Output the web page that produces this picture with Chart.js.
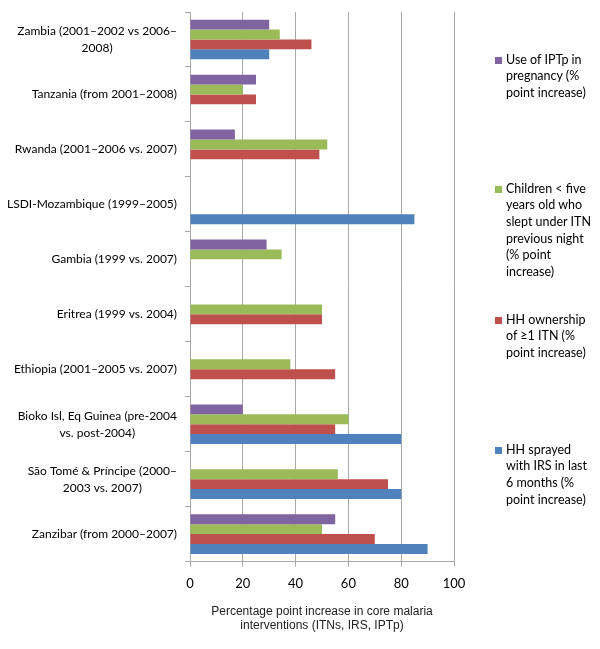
<!DOCTYPE html>
<html>
<head>
<meta charset="utf-8">
<script src="https://cdn.jsdelivr.net/npm/chart.js@4"></script>
<style>
  html, body { margin: 0; padding: 0; background: #fff; }
  #wrap { position: relative; width: 600px; height: 649px; }
  #legend { position: absolute; left: 0; top: 0; }
  .item { position: absolute; left: 495px; width: 100px; font: 12.5px Lato, sans-serif; color: #000; line-height: 16.7px; }
  .item span.box { position: absolute; left: 0; top: 5px; width: 7px; height: 7px; }
  .item div { margin-left: 11px; width: 87px; }
</style>
</head>
<body>
<div id="wrap">
  <canvas id="chart" width="600" height="649"></canvas>
  <div id="legend"></div>
</div>
<script>
const countries = [
  ['Zambia (2001–2002 vs 2006–', '2008)'],
  'Tanzania (from 2001–2008)',
  'Rwanda (2001–2006 vs. 2007)',
  'LSDI-Mozambique (1999–2005)',
  'Gambia (1999 vs. 2007)',
  'Eritrea (1999 vs. 2004)',
  'Ethiopia (2001–2005 vs. 2007)',
  ['Bioko Isl, Eq Guinea (pre-2004', 'vs. post-2004)'],
  ['São Tomé & Príncipe (2000–', '2003 vs. 2007)'],
  'Zanzibar (from 2000–2007)'
];

const seriesNames = [
  'Use of IPTp in pregnancy (% point increase)',
  'Children < five years old who slept under ITN previous night (% point increase)',
  'HH ownership of ≥1 ITN (% point increase)',
  'HH sprayed with IRS in last 6 months (% point increase)'
];

const iptp     = [30, 25, 17, null, 29, null, null, 20, null, 55];
const children = [34, 20, 52, null, 34.7, 50, 38, 60, 56, 50];
const hhItn    = [46, 25, 49, null, null, 50, 55, 55, 75, 70];
const hhIrs    = [30, null, null, 85, null, null, null, 80, 80, 90];

const xTicks = [0, 20, 40, 60, 80, 100];
const xTitle = ['Percentage point increase in core malaria', 'interventions (ITNs, IRS, IPTp)'];

const colors = ['#8064A2', '#9BBB59', '#C0504D', '#4F81BD'];
const legendTops = [51.6, 180.6, 311.6, 441.6];

const values = [iptp, children, hhItn, hhIrs];

// category labels: block right-aligned to the axis, lines centred inside the block
const categoryLabels = {
  id: 'categoryLabels',
  afterDraw(chart) {
    const ctx = chart.ctx;
    const y = chart.scales.y;
    const right = y.right - 13;
    const lineH = 17;
    ctx.save();
    ctx.font = '12px Lato';
    ctx.fillStyle = '#000';
    ctx.textAlign = 'center';
    ctx.textBaseline = 'middle';
    countries.forEach((lab, i) => {
      const lines = Array.isArray(lab) ? lab : [lab];
      const w = Math.max(...lines.map(l => ctx.measureText(l).width));
      const cx = right - w / 2;
      const cy = y.getPixelForTick(i);
      lines.forEach((l, j) => {
        ctx.fillText(l, cx, cy + (j - (lines.length - 1) / 2) * lineH);
      });
    });
    ctx.restore();
  }
};

const chart = new Chart(document.getElementById('chart'), {
  type: 'bar',
  data: {
    labels: countries,
    datasets: values.map((v, i) => ({
      label: seriesNames[i],
      data: v,
      backgroundColor: colors[i],
      borderWidth: 0,
      categoryPercentage: 0.72,
      barPercentage: 1
    }))
  },
  options: {
    indexAxis: 'y',
    responsive: false,
    animation: false,
    layout: { padding: { top: 12, right: 146, left: 0, bottom: 12 } },
    plugins: { legend: { display: false }, tooltip: { enabled: false } },
    scales: {
      x: {
        min: 0,
        max: 100,
        afterBuildTicks: (scale) => { scale.ticks = xTicks.map(v => ({ value: v })); },
        ticks: { font: { family: 'Lato', size: 13 }, color: '#000', padding: 9 },
        grid: { color: '#a8a8a8', tickLength: 5 },
        border: { color: '#a8a8a8' },
        title: {
          display: true,
          text: xTitle,
          font: { family: 'Liberation Sans', size: 12 },
          color: '#222',
          padding: { top: 4, bottom: 4 }
        }
      },
      y: {
        afterFit: (scale) => { scale.width = 190; },
        ticks: { display: false },
        grid: { drawOnChartArea: false, color: '#a8a8a8', tickLength: 5, offset: true },
        border: { color: '#a8a8a8' }
      }
    }
  },
  plugins: [categoryLabels]
});

const legend = document.getElementById('legend');
seriesNames.forEach((name, i) => {
  const item = document.createElement('div');
  item.className = 'item';
  item.style.top = legendTops[i] + 'px';
  item.innerHTML = '<span class="box" style="background:' + colors[i] + '"></span>';
  const txt = document.createElement('div');
  txt.textContent = name;
  item.appendChild(txt);
  legend.appendChild(item);
});
</script>
</body>
</html>
